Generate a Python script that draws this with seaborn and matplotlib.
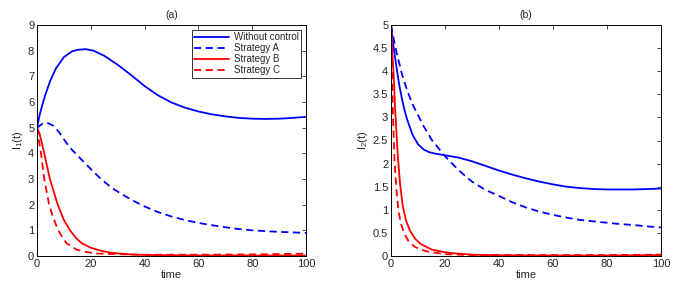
import matplotlib
matplotlib.use('Agg')
from matplotlib import pyplot as plt
import seaborn as sns
import pandas as pd

# panel (a): I1(t)
t_nc_a = [0, 1, 2, 3, 5, 7, 10, 13, 15, 18, 21, 25, 30, 35, 40, 45, 50, 55, 60, 65, 70, 75, 80, 85, 90, 95, 100]
nc_a = [5, 5.5, 5.9, 6.25, 6.85, 7.3, 7.75, 7.97, 8.03, 8.06, 8.0, 7.8, 7.45, 7.05, 6.62, 6.26, 5.98, 5.78, 5.63, 5.52, 5.44, 5.38, 5.35, 5.34, 5.35, 5.38, 5.42]
t_a_a = [0, 2, 3.6, 6, 8, 10, 12, 15, 18, 21, 24, 28, 32, 36, 40, 45, 50, 55, 60, 65, 70, 75, 80, 85, 90, 95, 100]
sa_a = [5, 5.15, 5.2, 5.08, 4.85, 4.55, 4.25, 3.92, 3.6, 3.28, 2.98, 2.64, 2.38, 2.14, 1.93, 1.71, 1.54, 1.4, 1.29, 1.2, 1.12, 1.05, 1.0, 0.97, 0.94, 0.92, 0.9]
t_b_a = [0, 1, 2.7, 4.8, 7.7, 10, 12.3, 14.5, 16.6, 20, 24, 28, 35, 40, 50, 60, 80, 100]
sb_a = [5, 4.75, 4.0, 3.0, 2.0, 1.4, 1.0, 0.7, 0.5, 0.32, 0.2, 0.12, 0.06, 0.04, 0.03, 0.02, 0.02, 0.02]
t_c_a = [0, 0.7, 1.5, 2.7, 4.5, 6, 7.9, 9.5, 11, 14.7, 18, 21.6, 30, 40, 50, 60, 80, 100]
sc_a = [5, 4.5, 4.0, 3.0, 2.0, 1.5, 1.0, 0.72, 0.5, 0.25, 0.16, 0.1, 0.07, 0.05, 0.05, 0.05, 0.06, 0.09]

# panel (b): I2(t)
t_nc_b = [0, 1, 2, 3, 4, 5, 6, 8, 10, 12, 14, 16, 20, 25, 30, 35, 40, 45, 50, 55, 60, 65, 70, 75, 80, 85, 90, 95, 100]
nc_b = [5, 4.5, 4.1, 3.72, 3.42, 3.16, 2.95, 2.62, 2.42, 2.31, 2.25, 2.22, 2.18, 2.13, 2.05, 1.95, 1.85, 1.76, 1.68, 1.61, 1.55, 1.5, 1.47, 1.45, 1.44, 1.44, 1.44, 1.45, 1.46]
t_a_b = [0, 1, 2, 4, 6, 8, 10, 12, 15, 20, 25, 30, 35, 40, 45, 50, 55, 60, 65, 70, 75, 80, 85, 90, 95, 100]
sa_b = [5, 4.7, 4.42, 3.95, 3.58, 3.28, 3.05, 2.82, 2.52, 2.16, 1.86, 1.61, 1.43, 1.3, 1.16, 1.05, 0.96, 0.89, 0.83, 0.78, 0.75, 0.72, 0.69, 0.67, 0.64, 0.62]
t_b_b = [0, 0.5, 1, 1.6, 2.6, 3.3, 4.3, 5.5, 7, 9, 11, 15, 20, 25, 30, 40, 60, 80, 100]
sb_b = [5, 4.4, 3.9, 3.1, 2.1, 1.6, 1.1, 0.78, 0.55, 0.37, 0.26, 0.14, 0.08, 0.05, 0.03, 0.015, 0.01, 0.01, 0.02]
t_c_b = [0, 0.4, 0.75, 1.35, 2, 2.7, 3.6, 4.8, 6.5, 8.8, 11, 14, 20, 30, 40, 60, 80, 100]
sc_b = [5, 4.0, 3.0, 2.0, 1.45, 1.0, 0.72, 0.5, 0.32, 0.2, 0.14, 0.09, 0.04, 0.02, 0.02, 0.02, 0.02, 0.03]

names = ["Without control", "Strategy A", "Strategy B", "Strategy C"]
palette = {"Without control": "#0000ff", "Strategy A": "#0000ff",
           "Strategy B": "#ff0000", "Strategy C": "#ff0000"}
dashes = {"Without control": "", "Strategy A": (4, 2.5),
          "Strategy B": "", "Strategy C": (4, 2.5)}


def long_df(series):
    rows = []
    for name, (t, v) in zip(names, series):
        for ti, vi in zip(t, v):
            rows.append({"time": ti, "value": vi, "series": name})
    return pd.DataFrame(rows)


df_a = long_df([(t_nc_a, nc_a), (t_a_a, sa_a), (t_b_a, sb_a), (t_c_a, sc_a)])
df_b = long_df([(t_nc_b, nc_b), (t_a_b, sa_b), (t_b_b, sb_b), (t_c_b, sc_b)])

sns.set_style("white")
plt.rcParams['font.family'] = ['Liberation Sans', 'DejaVu Sans']
plt.rcParams['mathtext.fontset'] = 'custom'
plt.rcParams['mathtext.rm'] = 'Liberation Sans'

fig = plt.figure(figsize=(6.76, 2.89), dpi=100)
ax1 = fig.add_axes([37 / 676, 33 / 289, 269 / 676, 231 / 289])
ax2 = fig.add_axes([391 / 676, 33 / 289, 270 / 676, 231 / 289])

for ax, df, ylim, yticks, ylab, title, leg in [
        (ax1, df_a, 9, range(10), r"I$_\mathrm{1}$(t)", "(a)", True),
        (ax2, df_b, 5, [i * 0.5 for i in range(11)], r"I$_\mathrm{2}$(t)", "(b)", False)]:
    sns.lineplot(data=df, x="time", y="value", hue="series", style="series",
                 palette=palette, dashes=dashes, linewidth=1.3, ax=ax,
                 legend=leg, estimator=None, sort=False)
    ax.set_xlim(0, 100)
    ax.set_ylim(0, ylim)
    ax.set_xticks(range(0, 101, 20))
    ax.set_yticks(list(yticks))
    ax.set_yticklabels([("%g" % v) for v in yticks])
    ax.tick_params(direction="in", top=True, right=True, length=3,
                   width=0.6, labelsize=8, pad=2)
    for s in ax.spines.values():
        s.set_color("black")
        s.set_linewidth(0.7)
    ax.set_xlabel("time", fontsize=8, labelpad=1)
    ax.set_ylabel(ylab, fontsize=8, labelpad=2)
    ax.set_title(title, fontsize=7.5, pad=5)

lg = ax1.legend(loc="upper right", fontsize=7, frameon=True, fancybox=False,
                handlelength=3.6, borderpad=0.25, labelspacing=0.1,
                handletextpad=0.5, borderaxespad=0.5)
lg.get_frame().set_edgecolor("black")
lg.get_frame().set_linewidth(0.7)

fig.savefig("out.png", dpi=100)
